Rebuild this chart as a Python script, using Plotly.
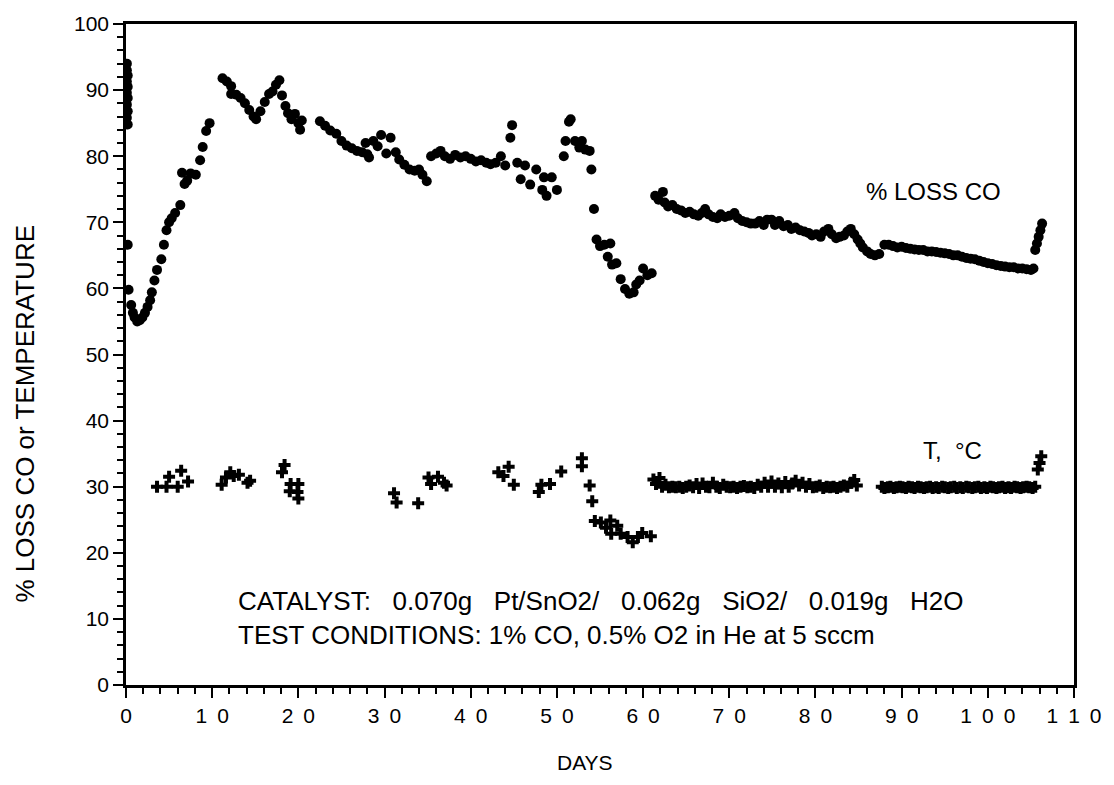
import plotly.graph_objects as go

# % loss of CO over time (days, percent)
co_days = [0.1, 0.1, 0.2, 0.1, 0.2, 0.1, 0.2, 0.1, 0.2, 0.1, 0.2, 0.2, 0.3,
           0.6, 0.8, 1.0, 1.3, 1.6, 1.9, 2.2, 2.5, 2.8, 3.0, 3.3, 3.6, 4.1, 4.4,
           4.7, 5.0, 5.3, 5.7, 6.3, 6.5, 6.8, 7.1, 7.5, 8.1, 8.6, 8.9, 9.3, 9.7,
           11.2, 11.7, 12.2, 12.2, 12.8, 13.3, 13.8, 14.3, 14.8, 15.1, 15.6,
           16.1, 16.6, 17.0, 17.4, 17.8, 18.1, 18.5, 18.8, 19.2, 19.6, 20.0,
           20.4, 20.2,
           22.5, 23.1, 23.7, 24.4, 25.0, 25.6, 26.2, 26.8, 27.4, 28.0, 28.2,
           27.8, 28.7, 29.2, 29.6, 30.2, 30.7, 31.3, 31.7, 32.3, 32.9, 33.5,
           34.0, 34.4, 34.9,
           35.4, 36.0, 36.5, 37.0, 37.6, 38.2, 38.8, 39.4, 40.0, 40.6, 41.2,
           41.8, 42.3, 42.9, 43.5, 44.0, 44.6, 44.8, 45.4, 45.8, 46.3, 46.9,
           47.6, 48.3, 48.5, 48.8, 49.4, 50.0, 50.8, 51.0, 51.4, 51.6, 52.1,
           52.6, 52.9, 53.3, 53.8, 54.0, 54.3, 54.6, 55.0, 55.5, 56.2, 55.9,
           56.4, 56.9, 57.4, 57.9, 58.4, 58.9, 59.2, 59.6, 60.0, 60.5, 61.0,
           61.4, 61.8, 62.3, 62.5, 62.9, 63.4, 63.9, 64.4, 64.9, 65.4, 65.9,
           66.4, 66.8, 67.2, 67.6, 68.1, 68.6, 69.0, 69.5, 70.0, 70.6, 71.0,
           71.5, 72.0, 72.5, 73.0, 73.5, 74.0, 74.4, 74.9, 75.3, 75.8, 76.3,
           76.8, 77.2, 77.7, 78.2, 78.7, 79.2, 79.6, 80.1, 80.6, 81.0, 81.5,
           81.9, 82.4, 82.8, 83.3, 83.7, 84.1, 84.5, 84.9, 85.2, 85.5, 86.0,
           86.4, 86.9, 87.4,
           88.0, 88.5, 89.0, 89.5, 90.0, 90.5, 91.0, 91.5, 92.0, 92.5, 93.0,
           93.5, 94.0, 94.5, 95.0, 95.5, 96.0, 96.5, 97.0, 97.5, 98.0, 98.5,
           99.0, 99.5, 100.0, 100.5, 101.0, 101.5, 102.0, 102.5, 103.0, 103.5,
           104.0, 104.5, 105.0, 105.3, 105.5, 105.7, 105.9, 106.1, 106.3]
co_loss = [94.0, 93.0, 92.2, 91.3, 90.5, 89.6, 88.8, 87.8, 86.8, 85.8, 84.8, 66.6, 59.8,
           57.5, 56.3, 55.6, 55.0, 55.2, 55.6, 56.3, 57.2, 58.2, 59.4, 61.2, 62.8, 64.4, 66.6,
           68.8, 70.0, 70.6, 71.4, 72.6, 77.5, 75.8, 76.3, 77.4, 77.2, 79.4, 81.4, 83.8, 85.0,
           91.8, 91.3, 90.6, 89.4, 89.3, 88.8, 88.0, 87.0, 86.0, 85.6, 86.8,
           88.2, 89.4, 89.8, 90.8, 91.5, 89.2, 87.6, 86.5, 85.6, 86.4, 85.0,
           85.4, 84.0,
           85.3, 84.6, 83.9, 83.4, 82.3, 81.6, 81.2, 80.8, 80.6, 80.3, 79.8,
           82.0, 82.3, 81.5, 83.2, 80.4, 82.8, 80.6, 79.5, 78.7, 78.0, 77.8,
           78.0, 77.2, 76.2,
           80.0, 80.4, 80.8, 80.0, 79.6, 80.2, 79.8, 80.0, 79.6, 79.2, 79.4,
           79.0, 78.8, 79.0, 80.0, 78.6, 82.8, 84.7, 79.0, 76.5, 78.6, 75.7,
           78.0, 74.9, 76.8, 74.0, 76.8, 74.9, 80.0, 82.3, 85.2, 85.6, 82.3,
           81.3, 82.3, 81.0, 80.8, 78.0, 72.0, 67.4, 66.4, 66.6, 66.8, 64.8,
           63.6, 63.8, 61.4, 59.9, 59.2, 59.4, 60.6, 61.2, 63.0, 62.0, 62.3,
           74.0, 73.4, 74.6, 73.0, 72.4, 72.6, 72.0, 71.8, 71.4, 71.6, 71.2,
           71.0, 71.4, 72.0, 71.2, 70.8, 70.6, 71.2, 70.8, 71.0, 71.4, 70.6,
           70.2, 70.0, 69.8, 69.8, 70.2, 69.6, 70.4, 70.4, 69.6, 70.2, 69.4,
           69.6, 69.0, 69.2, 68.8, 68.6, 68.4, 68.0, 68.2, 67.8, 68.6, 69.0,
           68.2, 67.6, 67.8, 68.0, 68.6, 69.0, 68.2, 67.4, 66.8, 66.2, 65.6,
           65.2, 65.0, 65.2,
           66.6, 66.6, 66.4, 66.2, 66.3, 66.1, 66.0, 65.9, 65.8, 65.8, 65.6,
           65.6, 65.5, 65.4, 65.3, 65.2, 65.0, 65.0, 64.8, 64.6, 64.5, 64.4,
           64.2, 64.0, 63.8, 63.7, 63.5, 63.4, 63.3, 63.2, 63.2, 63.0,
           63.0, 62.9, 62.8, 63.0, 65.8, 66.8, 67.8, 68.8, 69.8]

# Reactor temperature over time (days, deg C)
t_days = [3.6, 4.7, 5.0, 6.0, 6.4, 7.2, 11.1, 11.6, 12.1, 12.5, 13.1, 14.1, 14.4,
          18.1, 18.4, 19.1, 19.0, 20.0, 19.9, 20.0, 31.1, 31.4, 33.9, 35.1, 35.4,
          36.2, 36.9, 37.2, 43.2, 43.8, 44.4, 45.0, 47.9, 48.2, 49.2, 50.5, 52.9,
          52.9, 53.8, 54.1, 54.4, 55.1, 55.7, 56.2, 56.3, 57.0, 57.4, 58.2, 58.8,
          59.4, 59.9, 60.9,
          61.2, 61.5, 61.9, 62.2, 62.6, 63.0, 63.4, 63.8, 64.2, 64.6, 65.0, 65.4,
          65.8, 66.2, 66.5, 66.9, 67.3, 67.7, 68.1, 68.5, 68.9, 69.3, 69.7, 70.1,
          70.5, 70.9, 71.3, 71.7, 72.1, 72.5, 72.9, 73.3, 73.7, 74.1, 74.5, 74.9,
          75.3, 75.7, 76.1, 76.5, 76.9, 77.3, 77.7, 78.1, 78.5, 78.9, 79.3, 79.7,
          80.1, 80.5, 80.9, 81.3, 81.7, 82.1, 82.5, 82.9, 83.3, 83.7, 84.1, 84.5,
          84.8,
          87.7, 88.0, 88.4, 88.7, 89.1, 89.4, 89.8, 90.1, 90.5, 90.8, 91.2, 91.5,
          91.9, 92.2, 92.6, 92.9, 93.3, 93.6, 94.0, 94.3, 94.7, 95.0, 95.4, 95.7,
          96.1, 96.4, 96.8, 97.1, 97.5, 97.8, 98.2, 98.5, 98.9, 99.2, 99.6, 99.9,
          100.3, 100.6, 101.0, 101.3, 101.7, 102.0, 102.4, 102.7, 103.1, 103.4,
          103.8, 104.1, 104.5, 104.8, 105.2, 105.5,
          105.8, 106.0, 106.2]
t_degc = [30.0, 30.0, 31.5, 30.0, 32.4, 30.8, 30.3, 31.4, 32.2, 31.6, 31.8, 30.6, 30.9,
          32.2, 33.3, 30.4, 29.3, 30.4, 29.2, 28.2, 29.0, 27.6, 27.5, 31.4, 30.4,
          31.5, 30.6, 30.2, 32.2, 31.6, 33.0, 30.3, 29.2, 30.3, 30.4, 32.3, 34.3,
          33.1, 30.2, 27.8, 24.8, 24.6, 23.8, 24.9, 22.9, 24.1, 22.9, 22.4, 21.6,
          22.4, 23.0, 22.5,
          31.1, 30.4, 31.3, 30.0, 30.3, 29.9, 30.0, 29.9, 30.0, 29.8, 30.0, 30.2,
          29.9, 30.4, 29.8, 30.5, 30.0, 29.9, 30.6, 30.0, 29.8, 30.3, 30.0, 29.9,
          30.0, 29.8, 30.0, 30.1, 29.9, 30.0, 29.8, 30.3, 30.0, 30.6, 30.0, 30.8,
          30.0, 30.5, 29.9, 30.7, 30.0, 30.5, 30.9, 30.2, 30.6, 30.0, 30.4, 29.9,
          30.0, 30.2, 29.8, 30.0, 29.9, 30.0, 29.8, 30.0, 30.2, 30.0, 30.6, 31.0,
          30.2,
          30.0, 29.8, 29.9, 30.0, 29.8, 29.9, 30.0, 29.9, 29.8, 30.0, 29.9, 29.8,
          30.0, 29.9, 29.8, 29.9, 30.0, 29.8, 29.9, 29.8, 30.0, 29.9, 29.8, 29.9,
          30.0, 29.8, 29.9, 29.8, 30.0, 29.9, 29.8, 29.9, 30.0, 29.8, 29.9, 29.8,
          30.0, 29.9, 29.8, 29.9, 30.0, 29.8, 29.9, 29.8, 30.0, 29.9, 29.8, 29.9,
          30.0, 29.9, 29.8, 30.0,
          32.6, 33.6, 34.6]

# Day labels are typeset with the digits spread apart
x_tickvals = [0, 10, 20, 30, 40, 50, 60, 70, 80, 90, 100, 110]
x_ticktext = ["\u00a0\u2009".join(str(v)) for v in x_tickvals]
y_tickvals = [0, 10, 20, 30, 40, 50, 60, 70, 80, 90, 100]

FONT = "Liberation Sans, Arial, Helvetica, sans-serif"

fig = go.Figure()
fig.add_trace(go.Scatter(
    x=co_days, y=co_loss, mode="markers", name="% LOSS CO",
    marker=dict(symbol="circle", size=10, color="black"),
))
fig.add_trace(go.Scatter(
    x=t_days, y=t_degc, mode="markers", name="T, °C",
    marker=dict(symbol="cross", size=10, color="black"),
))

fig.add_annotation(x=93.7, y=74.7, xref="x", yref="y", text="% LOSS CO",
                   showarrow=False, font=dict(family=FONT, size=24, color="black"))
fig.add_annotation(x=95.9, y=35.5, xref="x", yref="y", text="T,  °C",
                   showarrow=False, font=dict(family=FONT, size=24, color="black"))
fig.add_annotation(x=12.8, y=12.7, xref="x", yref="y", xanchor="left", yanchor="middle",
                   text="CATALYST:   0.070g   Pt/SnO2/   0.062g   SiO2/   0.019g   H2O",
                   showarrow=False, font=dict(family=FONT, size=26, color="black"))
fig.add_annotation(x=12.8, y=7.6, xref="x", yref="y", xanchor="left", yanchor="middle",
                   text="TEST CONDITIONS: 1% CO, 0.5% O2 in He at 5 sccm",
                   showarrow=False, font=dict(family=FONT, size=26, color="black"))

# Axis titles placed as free text
fig.add_annotation(x=-0.107, y=0.41, xref="paper", yref="paper", textangle=-90,
                   xanchor="center", yanchor="middle",
                   text="% LOSS CO or TEMPERATURE", showarrow=False,
                   font=dict(family=FONT, size=26, color="black"))
fig.add_annotation(x=0.484, y=-0.117, xref="paper", yref="paper",
                   xanchor="center", yanchor="middle",
                   text="DAYS", showarrow=False,
                   font=dict(family=FONT, size=21, color="black"))

fig.update_layout(
    width=1114, height=785,
    margin=dict(l=126, r=37, t=18, b=100),
    paper_bgcolor="white", plot_bgcolor="white",
    showlegend=False,
    font=dict(family=FONT, color="black"),
)
fig.update_xaxes(
    range=[0, 110], tickvals=x_tickvals, ticktext=x_ticktext,
    showgrid=False, zeroline=False,
    showline=True, linecolor="black", linewidth=2.5, mirror=True,
    ticks="outside", ticklen=10, tickwidth=2, tickcolor="black",
    minor=dict(dtick=2, ticks="outside", ticklen=6, tickwidth=2, tickcolor="black"),
    tickfont=dict(family=FONT, size=21),
)
fig.update_yaxes(
    range=[0, 100], tickvals=y_tickvals,
    showgrid=False, zeroline=False,
    showline=True, linecolor="black", linewidth=2.5, mirror=True,
    ticks="outside", ticklen=10, tickwidth=2, tickcolor="black",
    minor=dict(dtick=2, ticks="outside", ticklen=6, tickwidth=2, tickcolor="black"),
    tickfont=dict(family=FONT, size=21),
)

fig.write_html("out.html")
